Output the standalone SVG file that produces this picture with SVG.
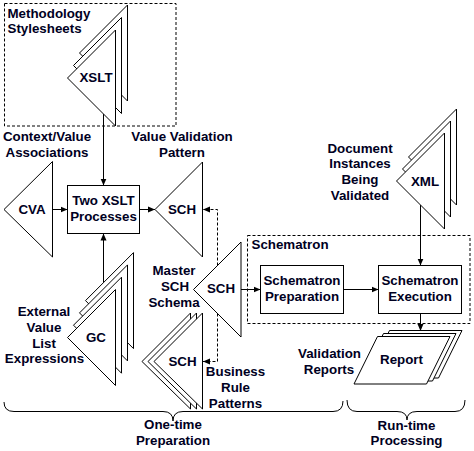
<svg xmlns="http://www.w3.org/2000/svg" width="474" height="451" viewBox="0 0 474 451">
<defs>
<style>
.sh{fill:#fff;stroke:#000;stroke-width:1}
.bx{fill:#fff;stroke:#000;stroke-width:1}
.dash{fill:none;stroke:#000;stroke-width:1;stroke-dasharray:3,2}
.ln{fill:none;stroke:#000;stroke-width:1}
.dl{fill:none;stroke:#000;stroke-width:1;stroke-dasharray:3,2}
text{font-family:"Liberation Sans",Arial,sans-serif;font-weight:bold;font-size:13.33px;fill:#000022}
.m{text-anchor:middle}
</style>
<marker id="ah" markerWidth="8" markerHeight="8" refX="7" refY="4" orient="auto" markerUnits="userSpaceOnUse"><path d="M0,1 L7,4 L0,7 z" fill="#000"/></marker>
</defs>
<rect width="474" height="451" fill="#fff"/>

<g id="methodology-group">
<rect class="dash" x="4.5" y="3.5" width="171.5" height="122.5"/>
<text x="7.5" y="17.5">Methodology</text>
<text x="7.5" y="33">Stylesheets</text>
</g>

<g id="schematron-group">
<rect class="dash" x="247.5" y="235.5" width="222.5" height="88"/>
<text x="251.5" y="249">Schematron</text>
</g>

<g id="connectors">
<line class="ln" x1="103.5" y1="114" x2="103.5" y2="185.5" marker-end="url(#ah)"/>
<line class="ln" x1="52.5" y1="209.5" x2="67.5" y2="209.5" marker-end="url(#ah)"/>
<line class="ln" x1="139.5" y1="209.5" x2="155" y2="209.5" marker-end="url(#ah)"/>
<line class="ln" x1="103.5" y1="282.6" x2="103.5" y2="233.5" marker-end="url(#ah)"/>
<polyline class="dl" points="217.5,265.5 217.5,209.5 203,209.5" marker-end="url(#ah)"/>
<polyline class="dl" points="217.5,313.5 217.5,361.5 203,361.5" marker-end="url(#ah)"/>
<line class="ln" x1="241" y1="289.5" x2="260.5" y2="289.5" marker-end="url(#ah)"/>
<line class="ln" x1="343.5" y1="289.5" x2="378.5" y2="289.5" marker-end="url(#ah)"/>
<line class="ln" x1="420.5" y1="205" x2="420.5" y2="265.5" marker-end="url(#ah)"/>
<line class="ln" x1="420.5" y1="313.5" x2="420.5" y2="331" marker-end="url(#ah)"/>
</g>

<g id="xslt">
<polygon class="sh" points="79.5,53 127.5,5 127.5,101"/>
<polygon class="sh" points="73.5,65.5 121.5,17.5 121.5,113.5"/>
<polygon class="sh" points="67.5,78 115.5,30 115.5,126"/>
<text class="m" x="96" y="82">XSLT</text>
</g>

<g id="context-label">
<text class="m" x="47" y="141">Context/Value</text>
<text class="m" x="47" y="157">Associations</text>
</g>

<g id="cva">
<polygon class="sh" points="4,209.5 52.5,161.5 52.5,257"/>
<text class="m" x="32" y="213.5">CVA</text>
</g>

<g id="two-xslt">
<rect class="bx" x="67.5" y="185.5" width="72" height="48"/>
<text class="m" x="103.5" y="205">Two XSLT</text>
<text class="m" x="103.5" y="220.7">Processes</text>
</g>

<g id="value-validation">
<text class="m" x="182" y="141">Value Validation</text>
<text class="m" x="182" y="157">Pattern</text>
<polygon class="sh" points="155,209.5 202.5,162 202.5,257"/>
<text class="m" x="182" y="213.5">SCH</text>
</g>

<g id="gc">
<polygon class="sh" points="85.5,300.6 133.5,252.6 133.5,348.6"/>
<polygon class="sh" points="79.5,312.9 127.5,264.9 127.5,360.9"/>
<polygon class="sh" points="73.5,325.2 121.5,277.2 121.5,373.2"/>
<polygon class="sh" points="67.5,337.5 115.5,289.5 115.5,385.5"/>
<text class="m" x="96" y="342">GC</text>
<text class="m" x="44" y="316">External</text>
<text class="m" x="44" y="331.7">Value</text>
<text class="m" x="44" y="347.5">List</text>
<text class="m" x="44.5" y="363.3">Expressions</text>
</g>

<g id="master-sch">
<polygon class="sh" points="193.5,289.5 241,242 241,337"/>
<text class="m" x="221" y="293">SCH</text>
<text class="m" x="174" y="275">Master</text>
<text class="m" x="175" y="291">SCH</text>
<text class="m" x="174" y="307">Schema</text>
</g>

<g id="business-rules">
<polygon class="sh" points="142,361.5 190.5,313 190.5,409"/>
<polygon class="sh" points="148,361.5 196.5,313 196.5,409"/>
<polygon class="sh" points="154,361.5 202.5,313 202.5,409"/>
<text class="m" x="182.5" y="365.5">SCH</text>
<text class="m" x="235.5" y="376">Business</text>
<text class="m" x="235.5" y="392">Rule</text>
<text class="m" x="235.5" y="407.5">Patterns</text>
</g>

<g id="xml">
<polygon class="sh" points="408.5,157 456.5,109 456.5,205"/>
<polygon class="sh" points="402.5,169 450.5,121 450.5,217"/>
<polygon class="sh" points="396.5,181 444.5,133 444.5,229"/>
<text class="m" x="425" y="185.5">XML</text>
<text class="m" x="360" y="152.5">Document</text>
<text class="m" x="360" y="168">Instances</text>
<text class="m" x="360" y="183.5">Being</text>
<text class="m" x="360" y="199.5">Validated</text>
</g>

<g id="schematron-preparation">
<rect class="bx" x="260.5" y="265.5" width="83" height="48"/>
<text class="m" x="302" y="284.5">Schematron</text>
<text class="m" x="302" y="300.5">Preparation</text>
</g>

<g id="schematron-execution">
<rect class="bx" x="378.5" y="265.5" width="83" height="48"/>
<text class="m" x="420" y="284.5">Schematron</text>
<text class="m" x="420" y="300.5">Execution</text>
</g>

<g id="report">
<polygon class="sh" points="389.5,330.5 462,330.5 438.5,378 366,378"/>
<polygon class="sh" points="383.5,333.5 456,333.5 432.5,381 360,381"/>
<polygon class="sh" points="377.5,336.5 450,336.5 426.5,384 354,384"/>
<text class="m" x="401.5" y="363.5">Report</text>
<text class="m" x="329.5" y="357.5">Validation</text>
<text class="m" x="329" y="373.5">Reports</text>
</g>

<g id="one-time">
<path class="ln" d="M4,402 Q4,411.5 14,411.5 L163,411.5 Q173,411.5 173,421 Q173,411.5 183,411.5 L333,411.5 Q343,411.5 343,401"/>
<text class="m" x="173" y="429">One-time</text>
<text class="m" x="173" y="445">Preparation</text>
</g>

<g id="run-time">
<path class="ln" d="M347,400 Q347,411.5 357,411.5 L397,411.5 Q407,411.5 407,420 Q407,411.5 417,411.5 L455,411.5 Q465,411.5 465,400"/>
<text class="m" x="406.5" y="429.5">Run-time</text>
<text class="m" x="406.5" y="445">Processing</text>
</g>
</svg>
